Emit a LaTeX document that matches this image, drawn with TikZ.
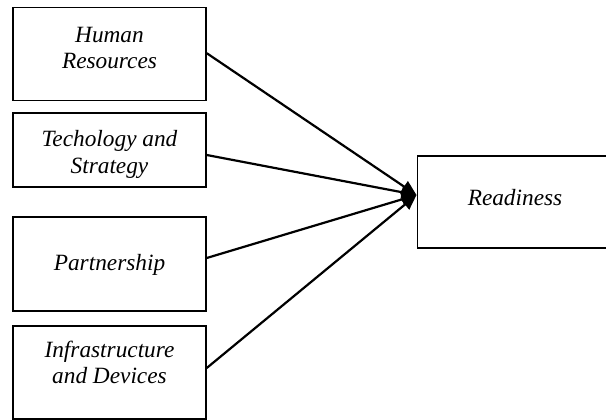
\documentclass[tikz,border=0pt]{standalone}
\usepackage{fontspec}
\setmainfont{Liberation Serif}
\usetikzlibrary{arrows.meta}
\begin{document}
\begin{tikzpicture}[x=1pt,y=-1pt,
  box/.style={draw=black,line width=1.5pt,inner sep=0pt,fill=none},
  lbl/.style={inner sep=0pt,align=center,anchor=base,font=\fontsize{23.3}{26.5}\selectfont\itshape},
  conn/.style={line width=2.2pt,-{Triangle[length=15pt,width=13pt]}}]
\useasboundingbox (0,0) rectangle (606,420);
\clip (0,0) rectangle (606,420);
\node[box,minimum width=193pt,minimum height=93pt] (b1) at (109.5,54.2) {};
\node[box,minimum width=193pt,minimum height=74pt] (b2) at (109.5,150) {};
\node[box,minimum width=193pt,minimum height=94pt] (b3) at (109.5,264) {};
\node[box,minimum width=193pt,minimum height=93pt] (b4) at (109.5,372.5) {};
\node[box,minimum width=200pt,minimum height=92pt,anchor=west] (r) at (416.5,202) {};
\node[lbl] (t1) at (109.5,69) {Human\\Resources};
\node[lbl] (t2) at (109.5,173) {Techology and\\Strategy};
\node[lbl] (t3) at (109.5,270) {Partnership};
\node[lbl] (t4) at (109.5,383.5) {Infrastructure\\and Devices};
\node[lbl] (t5) at (515,205) {Readiness};
\coordinate (tip) at ([yshift=7pt]r.west);
\draw[conn] ([yshift=1pt]b1.east) -- (tip);
\draw[conn] ([yshift=-5pt]b2.east) -- (tip);
\draw[conn] ([yshift=6pt]b3.east) -- (tip);
\draw[conn] ([yshift=4.5pt]b4.east) -- (tip);
\end{tikzpicture}
\end{document}
